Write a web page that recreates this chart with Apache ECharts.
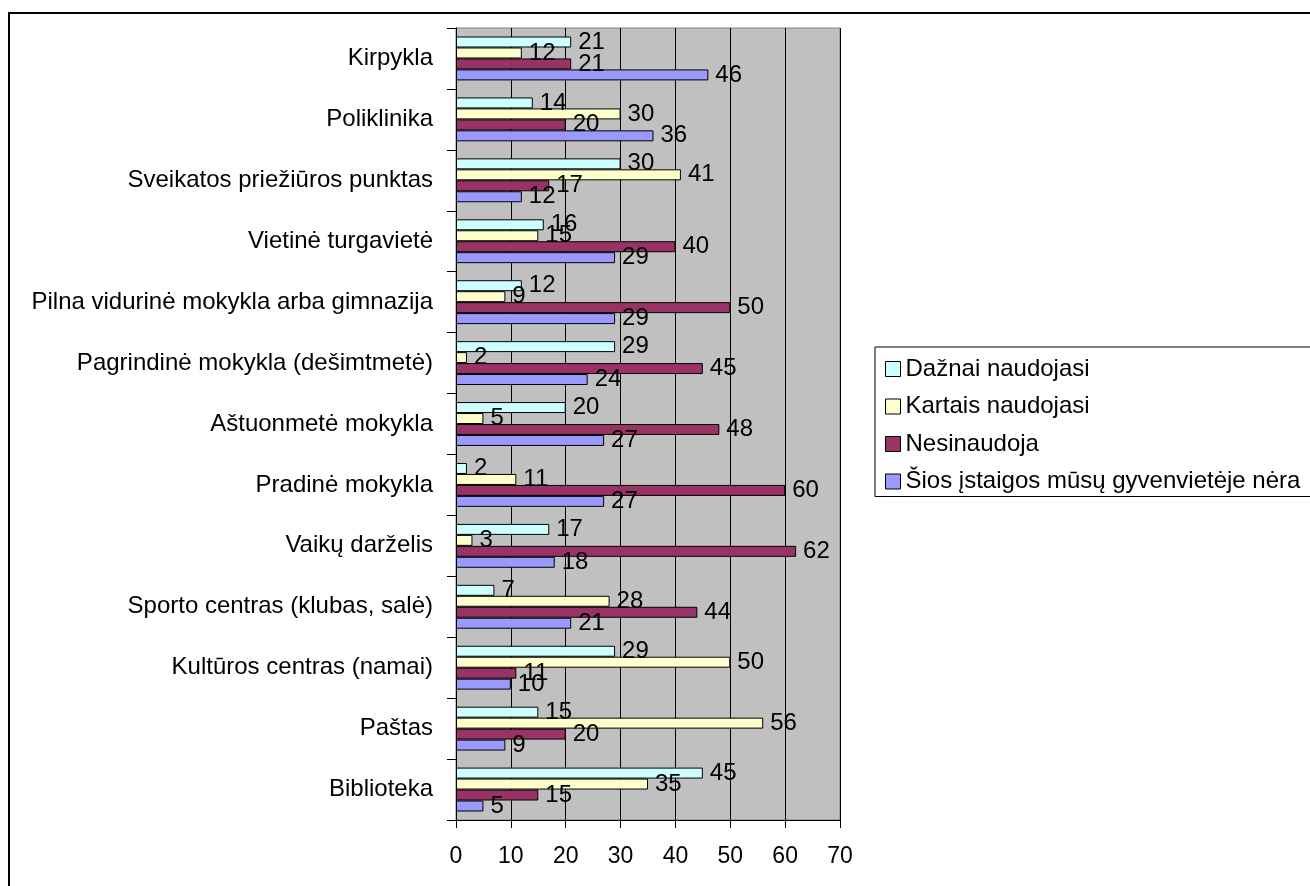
<!DOCTYPE html>
<html>
<head>
<meta charset="utf-8">
<script src="https://cdn.jsdelivr.net/npm/echarts@6/dist/echarts.min.js"></script>
<style>
html,body{margin:0;padding:0;background:#fff;}
#chart{width:1310px;height:886px;}
</style>
</head>
<body>
<div id="chart"></div>
<script>
const categories = ['Kirpykla','Poliklinika','Sveikatos priežiūros punktas','Vietinė turgavietė','Pilna vidurinė mokykla arba gimnazija','Pagrindinė mokykla (dešimtmetė)','Aštuonmetė mokykla','Pradinė mokykla','Vaikų darželis','Sporto centras (klubas, salė)','Kultūros centras (namai)','Paštas','Biblioteka'];
const seriesNames = ['Dažnai naudojasi','Kartais naudojasi','Nesinaudoja','Šios įstaigos mūsų gyvenvietėje nėra'];
const dazniai = [21,14,30,16,12,29,20,2,17,7,29,15,45];
const kartais = [12,30,41,15,9,2,5,11,3,28,50,56,35];
const nesinaudoja = [21,20,17,40,50,45,48,60,62,44,11,20,15];
const nera = [46,36,12,29,29,24,27,27,18,21,10,9,5];
const xTicks = {min:0, max:70, interval:10};

const FONT = 'Liberation Sans, Arial, sans-serif';
const colors = ['#CCFFFF','#FFFFCC','#993366','#9999FF'];
const values = [dazniai, kartais, nesinaudoja, nera];

const chart = echarts.init(document.getElementById('chart'), null, {renderer:'canvas'});
chart.setOption({
  animation:false,
  backgroundColor:'#fff',
  textStyle:{fontFamily:FONT},
  graphic:[{
    type:'rect', left:8, top:12, z:-10,
    shape:{x:0,y:0,width:1400,height:1000},
    style:{fill:'#fff', stroke:'#000', lineWidth:2}
  }],
  grid:{
    left:456, right:470, top:28, bottom:66,
    show:true, backgroundColor:'#C0C0C0', borderColor:'#808080', borderWidth:1,
    containLabel:false
  },
  legend:{
    orient:'vertical', left:875, top:347,
    data:seriesNames,
    backgroundColor:'#fff', borderColor:'#000', borderWidth:1,
    padding:[10,20,3,10],
    itemGap:13.5, itemWidth:15, itemHeight:15, icon:'rect',
    itemStyle:{borderColor:'#000', borderWidth:1},
    textStyle:{fontFamily:FONT, fontSize:24, color:'#000', lineHeight:24}
  },
  xAxis:{
    type:'value', min:xTicks.min, max:xTicks.max, interval:xTicks.interval,
    axisLine:{show:true, lineStyle:{color:'#000', width:1}},
    axisTick:{show:true, length:8, lineStyle:{color:'#000'}},
    axisLabel:{fontFamily:FONT, fontSize:23, color:'#000', margin:25},
    splitLine:{show:true, lineStyle:{color:'#000', width:1}}
  },
  yAxis:{
    type:'category', data:categories, inverse:true,
    axisLine:{show:true, lineStyle:{color:'#000', width:1}},
    axisTick:{show:true, length:9, lineStyle:{color:'#000'}},
    axisLabel:{fontFamily:FONT, fontSize:24, color:'#000', margin:23},
    splitLine:{show:false}
  },
  series: seriesNames.map((name,i)=>({
    name:name, type:'bar', data:values[i],
    barGap:'0%', barCategoryGap:'28%',
    itemStyle:{color:colors[i], borderColor:'#000', borderWidth:1},
    label:{show:true, position:'right', distance:7, fontFamily:FONT, fontSize:24, color:'#000'}
  }))
});
</script>
</body>
</html>
